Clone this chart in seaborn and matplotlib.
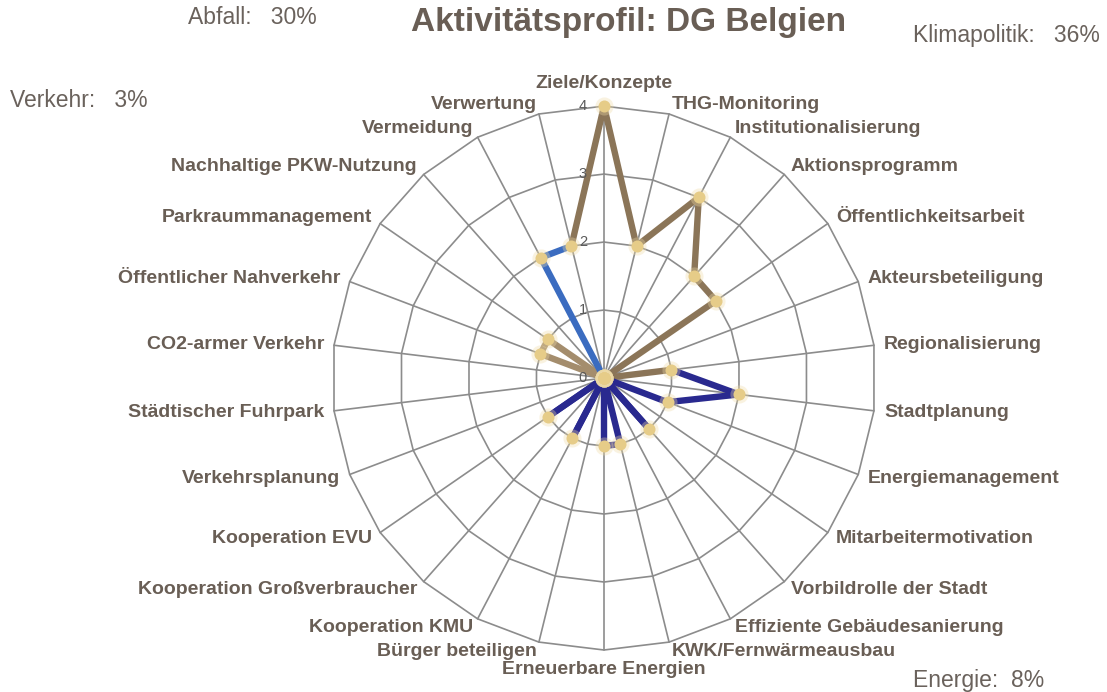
import numpy as np
import pandas as pd
import matplotlib
matplotlib.use("Agg")
import matplotlib.pyplot as plt
import seaborn as sns

# ---- data -------------------------------------------------------------
categories = [
    "Ziele/Konzepte", "THG-Monitoring", "Institutionalisierung", "Aktionsprogramm",
    "Öffentlichkeitsarbeit", "Akteursbeteiligung", "Regionalisierung",
    "Stadtplanung", "Energiemanagement", "Mitarbeitermotivation",
    "Vorbildrolle der Stadt", "Effiziente Gebäudesanierung", "KWK/Fernwärmeausbau",
    "Erneuerbare Energien", "Bürger beteiligen", "Kooperation KMU",
    "Kooperation Großverbraucher", "Kooperation EVU",
    "Verkehrsplanung", "Städtischer Fuhrpark", "CO2-armer Verkehr",
    "Öffentlicher Nahverkehr", "Parkraummanagement", "Nachhaltige PKW-Nutzung",
    "Vermeidung", "Verwertung",
]
scores = [4, 2, 3, 2, 2, 0, 1,
          2, 1, 0, 1, 0, 1, 1, 0, 1, 0, 1,
          0, 0, 0, 1, 1, 0,
          2, 2]
fields = (["Klimapolitik"] * 7 + ["Energie"] * 11 +
          ["Verkehr"] * 6 + ["Abfall"] * 2)

field_colors = {
    "Klimapolitik": "#8b7558",
    "Energie": "#29298f",
    "Verkehr": "#a48d6d",
    "Abfall": "#3b6cc0",
}

share_fields = ["Abfall", "Klimapolitik", "Verkehr", "Energie"]
share_pct = [30, 36, 3, 8]
share_gap = ["   ", "   ", "   ", "  "]

title = "Aktivitätsprofil: DG Belgien"
r_ticks = [0, 1, 2, 3, 4]

# ---- style ------------------------------------------------------------
sns.set_theme(style="white")
plt.rcParams["font.family"] = ["Liberation Sans", "DejaVu Sans"]
label_color = "#695e55"
grid_color = "#8c8c8c"

n = len(categories)
theta = 2 * np.pi * np.arange(n) / n

fig = plt.figure(figsize=(11.07, 6.92), dpi=100)
ax = fig.add_axes([0.2999, 0.0607, 0.4914, 0.786], projection="polar")
ax.set_theta_zero_location("N")
ax.set_theta_direction(-1)
ax.set_ylim(0, max(r_ticks))
ax.grid(False)
ax.spines["polar"].set_visible(False)
ax.set_xticks([])
ax.set_yticks([])
ax.set_facecolor("white")

# polygon web: rings and spokes
ring_theta = np.append(theta, theta[0])
for r in r_ticks[1:]:
    ax.plot(ring_theta, np.full(n + 1, r), color=grid_color, lw=1.2,
            zorder=1, clip_on=False)
for t in theta:
    ax.plot([t, t], [0, max(r_ticks)], color=grid_color, lw=1.2,
            zorder=1, clip_on=False)

# one closed series, each segment coloured by the field of its point
rows = []
seg_colors = {}
for i in range(n):
    prev = i - 1
    owner = fields[i] if scores[i] != 0 else fields[prev]
    seg_colors[i] = field_colors[owner]
    rows.append({"seg": i, "theta": theta[prev], "score": scores[prev]})
    rows.append({"seg": i, "theta": theta[i], "score": scores[i]})
segments = pd.DataFrame(rows)

sns.lineplot(data=segments, x="theta", y="score", hue="seg",
             palette=seg_colors, sort=False, estimator=None, legend=False,
             linewidth=4.6, solid_capstyle="round", solid_joinstyle="round",
             ax=ax, zorder=3, clip_on=False)

# soft gold markers on every point
points = pd.DataFrame({"theta": theta, "score": scores})
sns.scatterplot(data=points, x="theta", y="score", s=170, color="#efdca8",
                alpha=0.35, linewidth=0, ax=ax, zorder=4, clip_on=False)
sns.scatterplot(data=points, x="theta", y="score", s=75, color="#e6cc88",
                linewidth=0, ax=ax, zorder=5, clip_on=False)
ax.set_xlabel("")
ax.set_ylabel("")

# radial value labels along the top spoke
for r in r_ticks:
    ax.annotate(str(r), xy=(0, r), xytext=(-21, 0), textcoords="offset pixels",
                ha="center", va="center", fontsize=10.5, color="#5a5a5a",
                zorder=6, annotation_clip=False)

# category labels outside the web
for i, (t, name) in enumerate(zip(theta, categories)):
    sx, cy = np.sin(t), np.cos(t)
    vertical = abs(sx) < 1e-6
    d = (23 if cy > 0 else 20) if vertical else 10
    if sx > 1e-6:
        ha = "left"
    elif sx < -1e-6:
        ha = "right"
    else:
        ha = "center"
    ax.annotate(name, xy=(t, max(r_ticks)), xytext=(d * sx, d * cy),
                textcoords="offset pixels", ha=ha, va="center",
                fontsize=14, fontweight="bold", color=label_color,
                annotation_clip=False)

fig.text(0.568, 0.968, title, ha="center", va="center", fontsize=24,
         fontweight="bold", color=label_color)

share_pos = {"Abfall": (0.170, 0.974), "Klimapolitik": (0.825, 0.949),
             "Verkehr": (0.009, 0.855), "Energie": (0.825, 0.017)}
for f, p, g in zip(share_fields, share_pct, share_gap):
    x, y = share_pos[f]
    fig.text(x, y, f"{f}:{g}{p}%", ha="left", va="center", fontsize=16.5,
             color="#6a625c")

fig.savefig("out.png", dpi=100, facecolor="white")
